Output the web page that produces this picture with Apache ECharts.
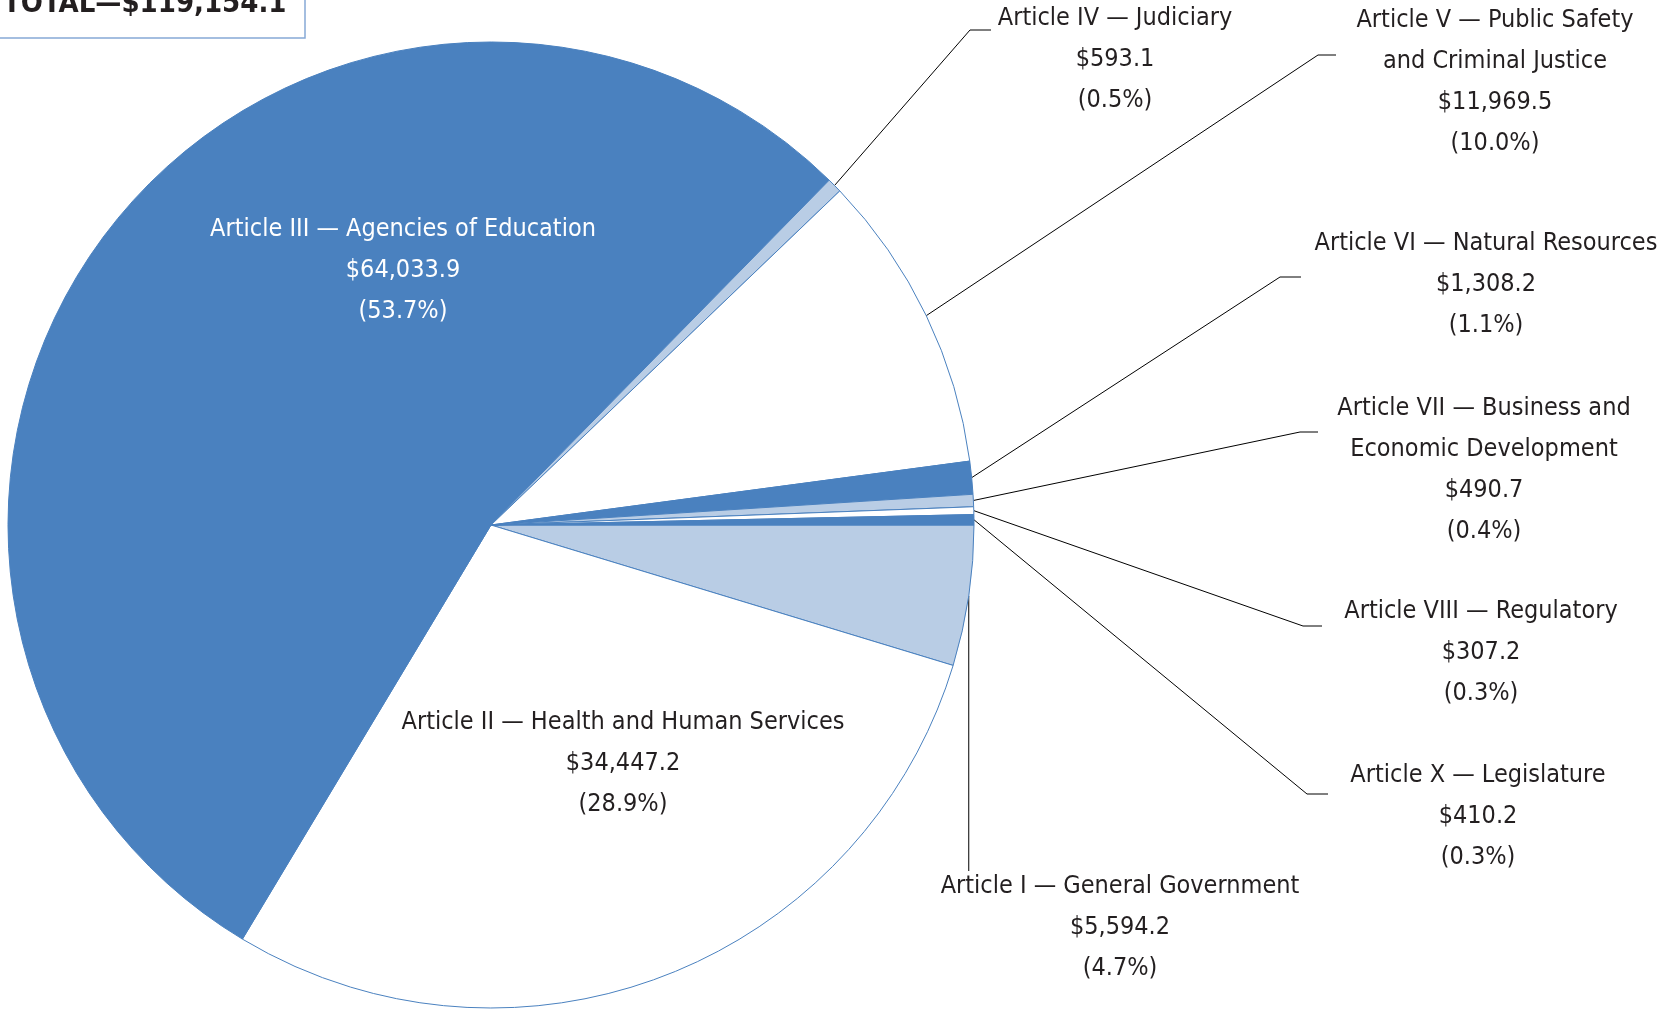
<!DOCTYPE html>
<html>
<head>
    <meta charset="utf-8" />
    <title>All Funds by Article</title>
    <style>
        html, body { margin: 0; padding: 0; background: #fff; }
        #chartBox { width: 1662px; height: 1013px; }
    </style>
</head>
<body>
    <div id="chartBox"></div>
    <script src="https://cdn.jsdelivr.net/npm/echarts@6/dist/echarts.min.js"></script>
    <script>
    // data, in millions, clockwise from 3 o'clock
    var articleNames = [
        'Article I \u2014 General Government',
        'Article II \u2014 Health and Human Services',
        'Article III \u2014 Agencies of Education',
        'Article IV \u2014 Judiciary',
        'Article V \u2014 Public Safety\nand Criminal Justice',
        'Article VI \u2014 Natural Resources',
        'Article VII \u2014 Business and\nEconomic Development',
        'Article VIII \u2014 Regulatory',
        'Article X \u2014 Legislature'
    ];
    var articleValues = [5594.2, 34447.2, 64033.9, 593.1, 11969.5, 1308.2, 490.7, 307.2, 410.2];
    var totalText = 'TOTAL\u2014$119,154.1';

    // slice fills cycle light / white / dark
    var sliceColors = ['#b9cde5', '#ffffff', '#4a81bf'];

    // label block centres and leader line bends (layout only)
    var labelAnchor = [[1120, 927], [623, 763], [403, 270], [1115, 59], [1495, 82], [1486, 284], [1484, 470], [1481, 652], [1478, 816]];
    var leaderBend = [[null, 871, 0], null, null, [970, 30, 21], [1318, 55, 18], [1280, 277, 21], [1300, 432, 18], [1303, 626, 19], [1307, 794, 21]];

    var _font = "'DejaVu Sans Condensed', 'DejaVu Sans', sans-serif";
    var _fontSize = 25;

    function fmtMoney(v) {
        var s = v.toFixed(1).split('.');
        return '$' + s[0].replace(/\B(?=(\d{3})+(?!\d))/g, ',') + '.' + s[1];
    }

    var total = articleValues.reduce(function (a, b) { return a + b; }, 0);

    var pieData = articleNames.map(function (name, i) {
        var item = {
            name: name,
            value: articleValues[i],
            itemStyle: { color: sliceColors[i % 3] }
        };
        if (i === 1 || i === 2) {
            item.labelLine = { show: false };
        }
        if (i === 2) {
            item.label = { color: '#ffffff' };
        }
        return item;
    });

    var myChart = echarts.init(document.getElementById('chartBox'));
    var option = {
        animation: false,
        graphic: [{
            type: 'rect',
            shape: { x: -2, y: -2, width: 307, height: 40 },
            style: { fill: '#fff', stroke: '#86a9d6', lineWidth: 1.5 }
        }, {
            type: 'text',
            x: 3,
            y: 4,
            style: {
                text: totalText,
                fill: '#231f20',
                font: 'bold 29px ' + _font,
                verticalAlign: 'middle'
            }
        }],
        series: [{
            type: 'pie',
            center: [491, 525],
            radius: 483,
            startAngle: 0,
            clockwise: true,
            avoidLabelOverlap: false,
            minShowLabelAngle: 0,
            silent: true,
            itemStyle: {
                borderColor: '#4a81bf',
                borderWidth: 1
            },
            label: {
                show: true,
                position: 'outside',
                color: '#231f20',
                fontFamily: _font,
                fontSize: _fontSize,
                lineHeight: 41,
                align: 'center',
                formatter: function (p) {
                    return p.name + '\n' + fmtMoney(p.value) + '\n(' + (p.value / total * 100).toFixed(1) + '%)';
                }
            },
            labelLine: {
                show: true,
                lineStyle: { color: '#000000', width: 1 }
            },
            labelLayout: function (params) {
                var i = params.dataIndex;
                var res = {
                    x: labelAnchor[i][0],
                    y: labelAnchor[i][1],
                    align: 'center',
                    verticalAlign: 'middle'
                };
                var b = leaderBend[i];
                if (b && params.labelLinePoints) {
                    var p0 = params.labelLinePoints[0];
                    var bx = b[0] === null ? p0[0] : b[0];
                    res.labelLinePoints = [p0, [bx, b[1]], [bx + b[2], b[1]]];
                }
                return res;
            },
            data: pieData
        }]
    };
    myChart.setOption(option);
    </script>
</body>
</html>
